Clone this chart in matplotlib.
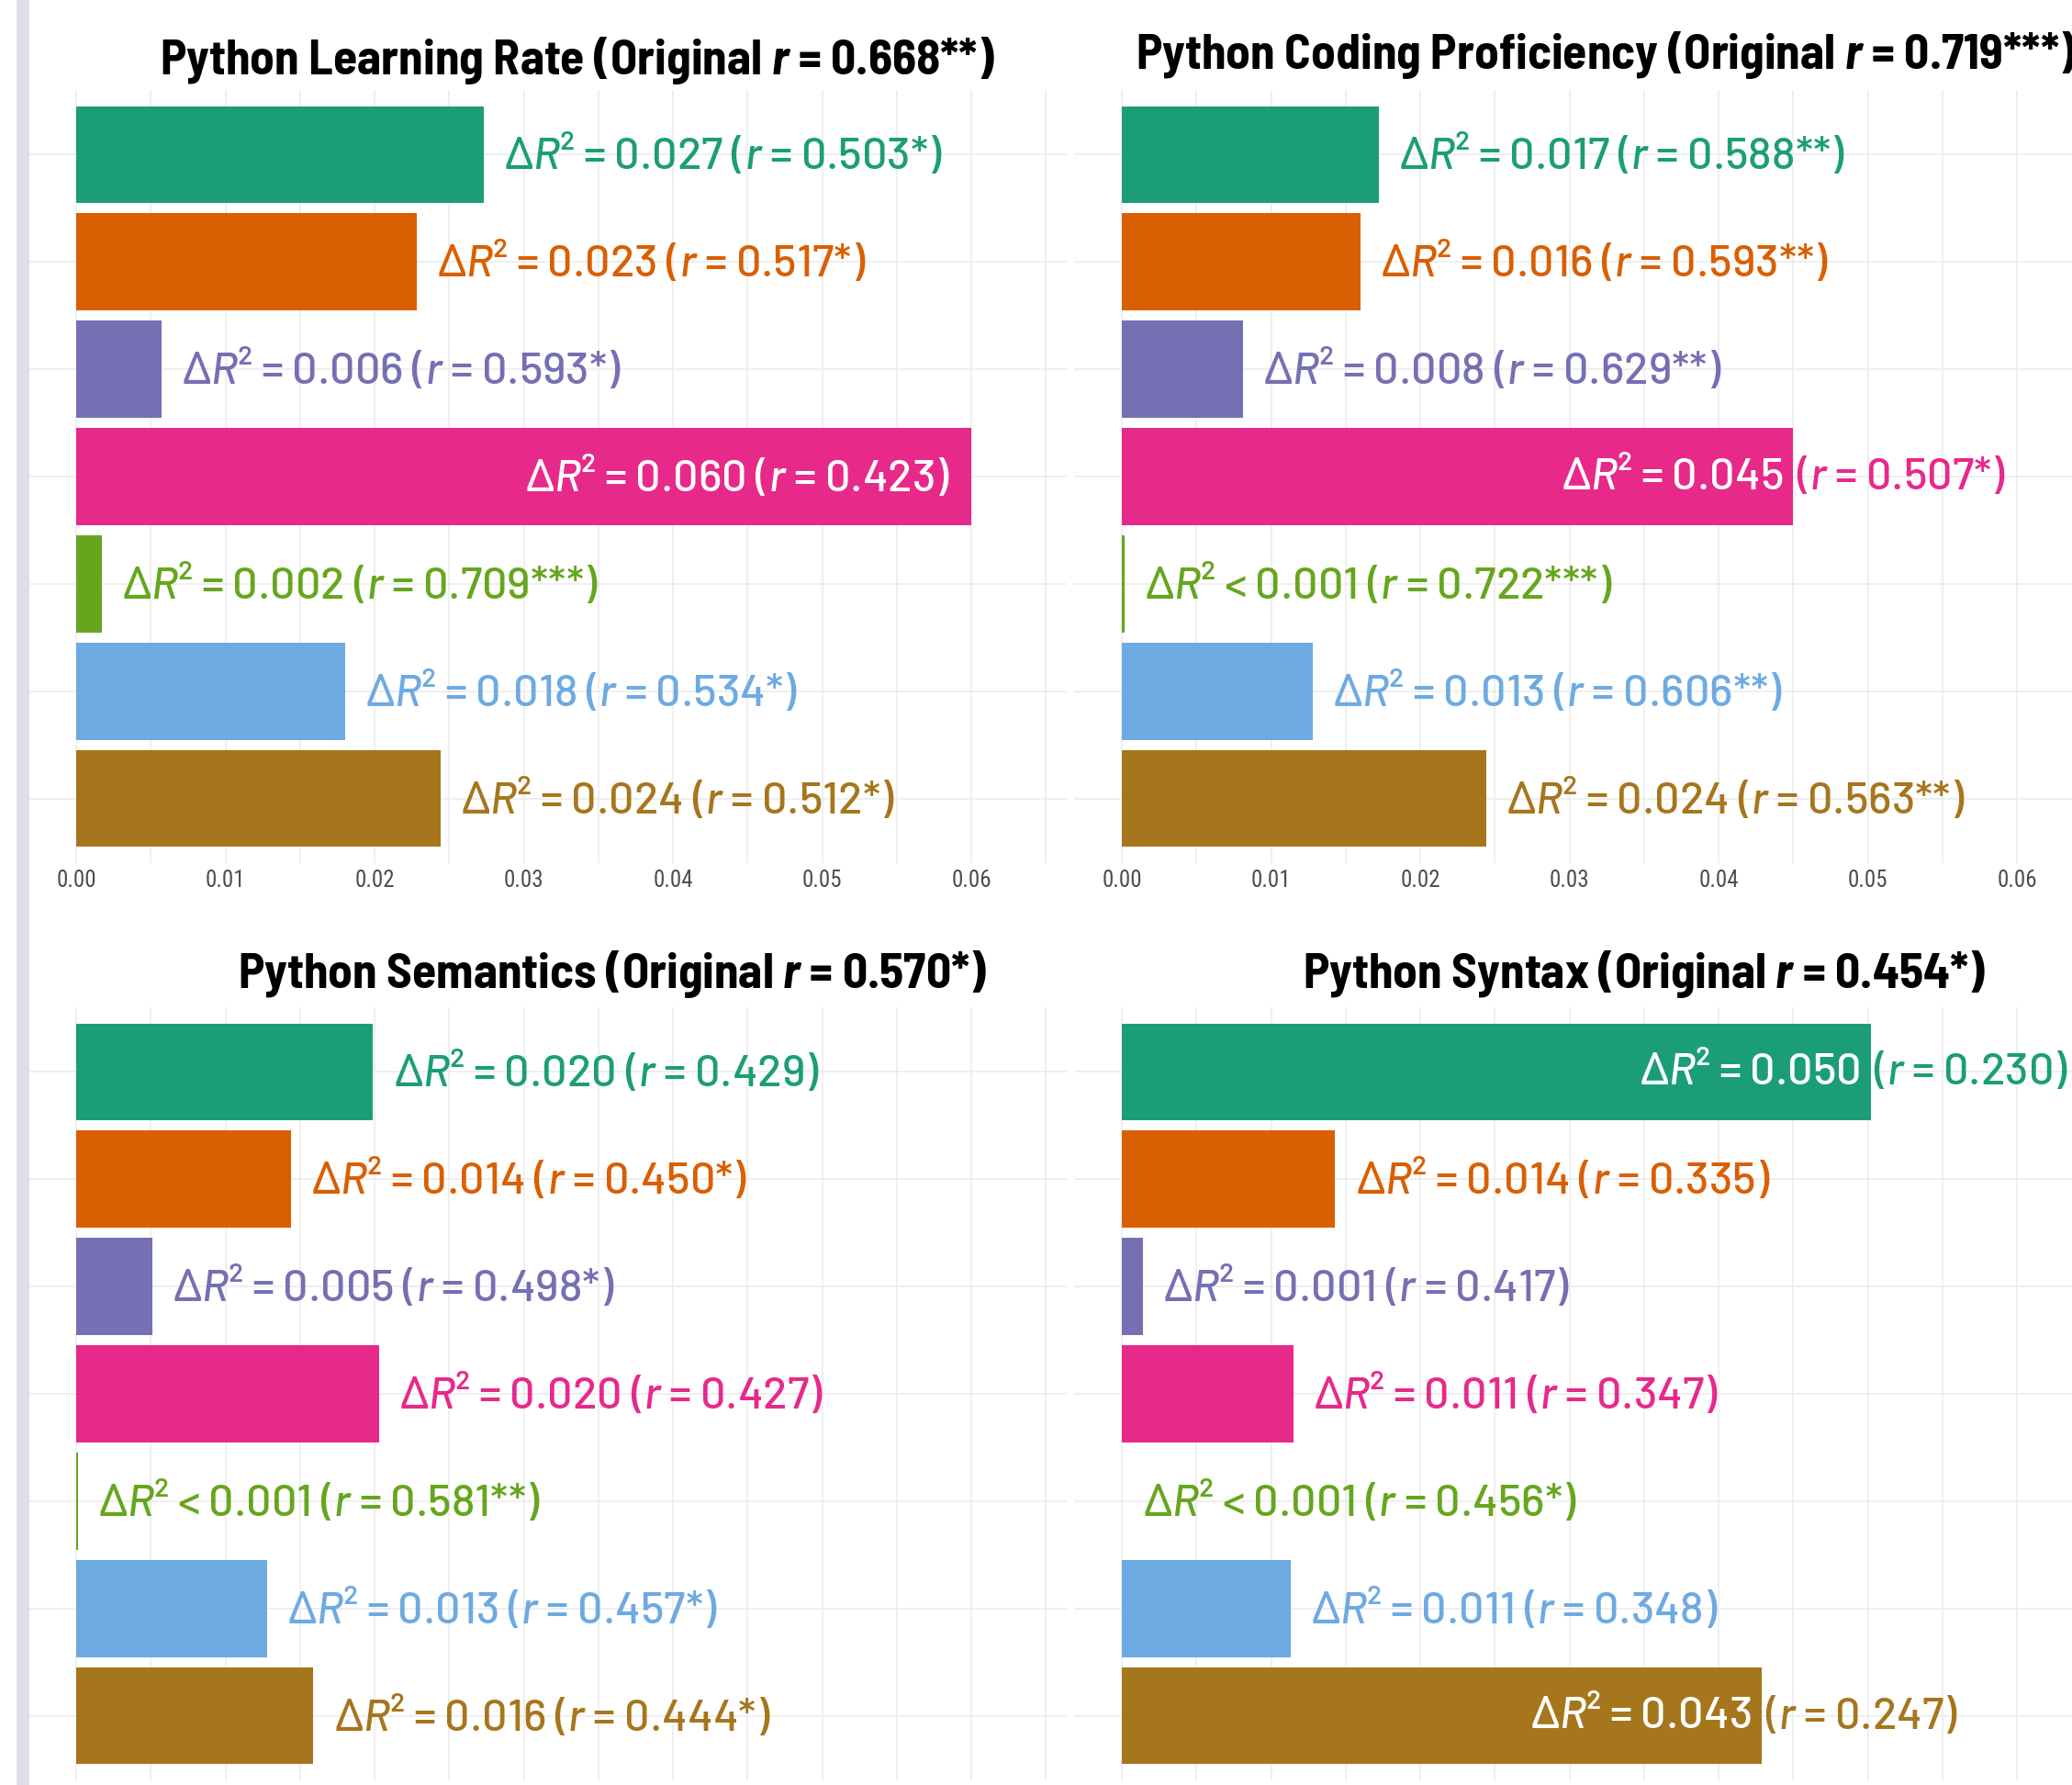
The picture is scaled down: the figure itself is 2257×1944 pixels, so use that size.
import matplotlib
matplotlib.use("Agg")
import matplotlib.pyplot as plt
from matplotlib import font_manager as fm
from matplotlib.ft2font import FT2Font
from matplotlib.patches import Rectangle

# ---------------- data ----------------
panel_titles = ["Python Learning Rate", "Python Coding Proficiency",
                "Python Semantics", "Python Syntax"]
original_r = [0.668, 0.719, 0.570, 0.454]
original_sig = ["**", "***", "*", "*"]

delta_r2_learning = [0.0273, 0.0228, 0.0057, 0.0600, 0.0017, 0.0180, 0.0244]
r_learning = [0.503, 0.517, 0.593, 0.423, 0.709, 0.534, 0.512]
sig_learning = ["*", "*", "*", "", "***", "*", "*"]

delta_r2_coding = [0.0172, 0.0160, 0.0081, 0.0450, 0.0002, 0.0128, 0.0244]
r_coding = [0.588, 0.593, 0.629, 0.507, 0.722, 0.606, 0.563]
sig_coding = ["**", "**", "**", "*", "***", "**", "**"]

delta_r2_semantics = [0.0199, 0.0144, 0.0051, 0.0203, 0.0001, 0.0128, 0.0159]
r_semantics = [0.429, 0.450, 0.498, 0.427, 0.581, 0.457, 0.444]
sig_semantics = ["", "*", "*", "", "**", "*", "*"]

delta_r2_syntax = [0.0502, 0.0143, 0.0014, 0.0115, 0.00002, 0.0113, 0.0429]
r_syntax = [0.230, 0.335, 0.417, 0.347, 0.456, 0.348, 0.247]
sig_syntax = ["", "", "", "", "*", "", ""]

x_ticks = [0.00, 0.01, 0.02, 0.03, 0.04, 0.05, 0.06]
x_tick_labels = ["0.00", "0.01", "0.02", "0.03", "0.04", "0.05", "0.06"]

bar_colors = ["#1b9e77", "#d95f02", "#7570b3", "#e7298a",
              "#66a61e", "#6eaae2", "#a6761d"]

# ---------------- fonts ----------------
available = {f.name: f.fname for f in fm.fontManager.ttflist}


def pick(cands):
    for c in cands:
        if c in available:
            return c
    return "DejaVu Sans"


label_font = pick(["Bahnschrift", "D-DIN", "Barlow", "Barlow Semi Condensed", "DejaVu Sans"])
title_font = pick(["Bahnschrift", "D-DIN", "Barlow Semi Condensed", "Barlow", "DejaVu Sans"])
tick_font = pick(["Roboto Condensed", "Archivo Narrow", "Liberation Sans Narrow", title_font])

plt.rcParams["mathtext.fontset"] = "custom"
plt.rcParams["mathtext.rm"] = label_font + ":medium"
plt.rcParams["mathtext.it"] = label_font + ":italic:medium"
plt.rcParams["mathtext.bf"] = title_font + ":bold"
try:
    plt.rcParams["mathtext.bfit"] = title_font + ":italic:bold"
    bfit = r"\mathbfit"
except KeyError:
    bfit = r"\mathit"
plt.rcParams["mathtext.fallback"] = "stixsans"

# choose glyphs the font has
delta_sym = r"\Delta"
sup2 = None
try:
    ft = FT2Font(fm.findfont(fm.FontProperties(family=label_font, style="italic")))
    if ft.get_char_index(0x0394) == 0 and ft.get_char_index(0x2206) != 0:
        delta_sym = "\u2206"
    ft2 = FT2Font(fm.findfont(fm.FontProperties(family=label_font, weight="medium")))
    if ft2.get_char_index(0x00B2) != 0:
        sup2 = "\u00b2"
except Exception:
    pass

if sup2:
    dr_math = r"$\mathit{" + delta_sym + r" R}$" + sup2
else:
    dr_math = r"$\mathit{" + delta_sym + r" R}^{2}$"
r_math = r"$\mathit{r}$"

# ---------------- figure ----------------
W, H = 2257, 1944
fig = plt.figure(figsize=(W / 100, H / 100), dpi=100)
fig.patch.set_facecolor("white")
fig.patches.append(Rectangle((18 / W, 0), 14 / W, 1, transform=fig.transFigure,
                             facecolor="#dfdeea", edgecolor="none", zorder=0))

grid_color = "#ebebeb"
XLIM = (-0.0032, 0.0664)
YLIM = (6.6, -0.6)
ax_w, ax_h = 1131, 842
panel_px = [(31, 98), (1170, 98), (31, 1097), (1170, 1097)]  # left, top in px
title_pos = [(629, 66), (1749, 60), (667, 1061), (1791, 1061)]

label_fs = 35
title_fs = 38.5
gap_pt = 16.0

panels = [
    (delta_r2_learning, r_learning, sig_learning),
    (delta_r2_coding, r_coding, sig_coding),
    (delta_r2_semantics, r_semantics, sig_semantics),
    (delta_r2_syntax, r_syntax, sig_syntax),
]

label_kw = dict(fontsize=label_fs, family=label_font, fontweight="medium",
                va="center", textcoords="offset points", zorder=3,
                annotation_clip=False)

for pi, (vals, rs, sigs) in enumerate(panels):
    lx, ty = panel_px[pi]
    ax = fig.add_axes([lx / W, 1 - (ty + ax_h) / H, ax_w / W, ax_h / H])
    ax.set_facecolor("none")
    ax.set_xlim(*XLIM)
    ax.set_ylim(*YLIM)
    for s in ax.spines.values():
        s.set_visible(False)
    ax.set_xticks(x_ticks)
    ax.set_xticklabels(x_tick_labels)
    ax.set_xticks([t + 0.005 for t in x_ticks], minor=True)
    ax.set_yticks(range(len(vals)))
    ax.set_yticklabels([])
    ax.tick_params(axis="both", which="both", length=0)
    ax.tick_params(axis="x", pad=5, labelsize=18, labelcolor="#4d4d4d")
    for lab in ax.get_xticklabels():
        lab.set_family(tick_font)
    if pi >= 2:
        ax.tick_params(axis="x", labelbottom=False)
    ax.grid(True, which="both", axis="x", color=grid_color, linewidth=1.1)
    ax.grid(True, which="major", axis="y", color=grid_color, linewidth=1.1)
    ax.set_axisbelow(True)

    ys = list(range(len(vals)))
    ax.barh(ys, vals, height=0.9, color=bar_colors, edgecolor="none", zorder=2)

    for y, v, r, sg, col in zip(ys, vals, rs, sigs, bar_colors):
        dr_txt = f"{dr_math} < 0.001" if v < 0.001 else f"{dr_math} = {v:.3f}"
        r_txt = f"({r_math} = {r:.3f}{sg})"
        if v >= 0.055:
            ax.annotate(f"{dr_txt} {r_txt}", (v, y), xytext=(-16.5, 0),
                        ha="right", color="white", **label_kw)
        elif v >= 0.035:
            ax.annotate(dr_txt, (v, y), xytext=(-8.0, 0),
                        ha="right", color="white", **label_kw)
            ax.annotate(r_txt, (v, y), xytext=(2.5, 0),
                        ha="left", color=col, **label_kw)
        else:
            ax.annotate(f"{dr_txt} {r_txt}", (v, y), xytext=(gap_pt, 0),
                        ha="left", color=col, **label_kw)

    tx, tyy = title_pos[pi]
    title = (f"{panel_titles[pi]} (Original ${bfit}{{r}}$ = "
             f"{original_r[pi]:.3f}{original_sig[pi]})")
    fig.text(tx / W, 1 - tyy / H, title, ha="center", va="center",
             fontsize=title_fs, fontweight="bold", family=title_font, color="black")

fig.savefig("out.png", dpi=100)
